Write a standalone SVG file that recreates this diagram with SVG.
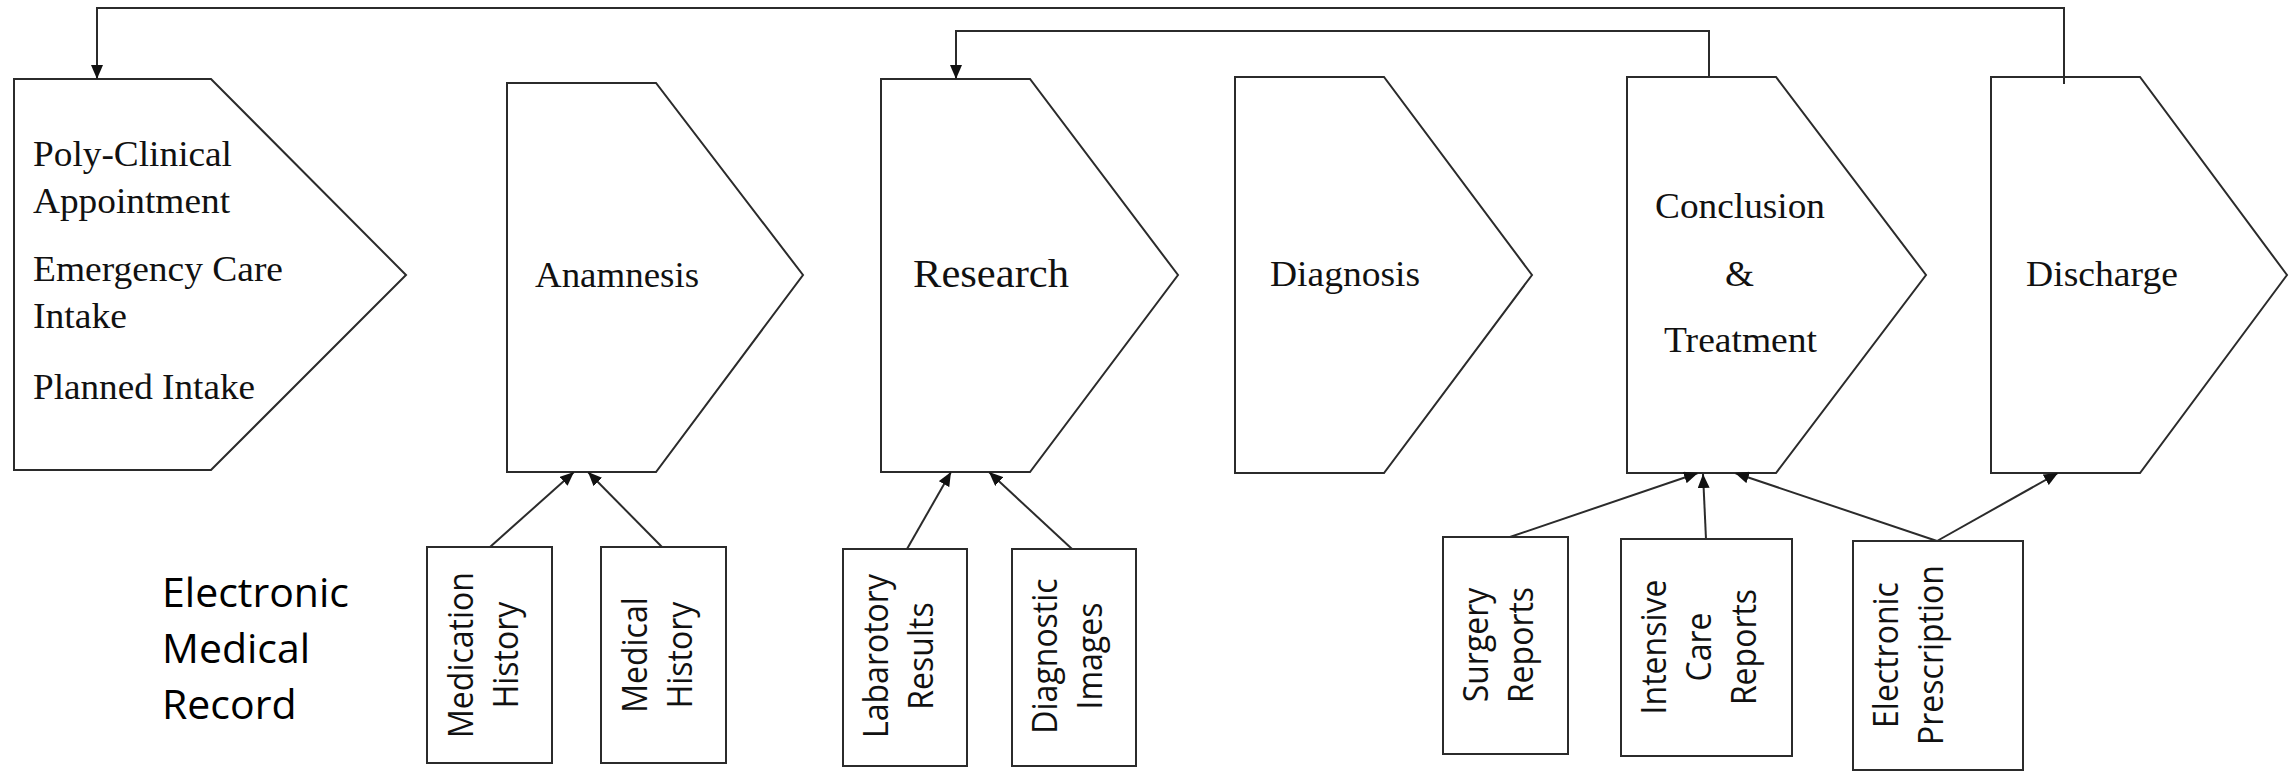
<svg xmlns="http://www.w3.org/2000/svg" width="2292" height="771" viewBox="0 0 2292 771">
  <style>
    .stage { fill: #ffffff; stroke: #2b2b2b; stroke-width: 2; }
    .box { fill: #ffffff; stroke: #2b2b2b; stroke-width: 2; }
    .link { fill: none; stroke: #2b2b2b; stroke-width: 2; }
    .serif { font-family: "Liberation Serif", "Times New Roman", serif; font-size: 36px; fill: #111111; }
    .big { font-size: 41px; }
    .sans { font-family: "Open Sans", "Liberation Sans", sans-serif; font-size: 32px; fill: #111111; text-anchor: middle; }
    .label { font-family: "Open Sans", "Liberation Sans", sans-serif; font-size: 41px; fill: #000000; }
  </style>
  <defs>
    <marker id="head" markerUnits="userSpaceOnUse" markerWidth="16" markerHeight="12" refX="14" refY="6" orient="auto">
      <path d="M0,0 L14,6 L0,12 Z" fill="#111111"/>
    </marker>
  </defs>

  <rect width="2292" height="771" fill="#ffffff"/>

  <!-- process stages (chevrons) -->
  <g id="stage-intake">
    <polygon class="stage" points="14,79 211,79 406,275 211,470 14,470"/>
    <text class="serif" x="33" y="166" textLength="199" lengthAdjust="spacingAndGlyphs">Poly-Clinical</text>
    <text class="serif" x="33" y="213" textLength="197" lengthAdjust="spacingAndGlyphs">Appointment</text>
    <text class="serif" x="33" y="281" textLength="250" lengthAdjust="spacingAndGlyphs">Emergency Care</text>
    <text class="serif" x="33" y="328" textLength="94" lengthAdjust="spacingAndGlyphs">Intake</text>
    <text class="serif" x="33" y="399" textLength="222" lengthAdjust="spacingAndGlyphs">Planned Intake</text>
  </g>
  <g id="stage-anamnesis">
    <polygon class="stage" points="507,83 656,83 803,275 656,472 507,472"/>
    <text class="serif" x="535" y="287" textLength="164" lengthAdjust="spacingAndGlyphs">Anamnesis</text>
  </g>
  <g id="stage-research">
    <polygon class="stage" points="881,79 1030,79 1178,275 1030,472 881,472"/>
    <text class="serif big" x="913" y="287" textLength="156" lengthAdjust="spacingAndGlyphs">Research</text>
  </g>
  <g id="stage-diagnosis">
    <polygon class="stage" points="1235,77 1384,77 1532,275 1384,473 1235,473"/>
    <text class="serif" x="1270" y="286" textLength="150" lengthAdjust="spacingAndGlyphs">Diagnosis</text>
  </g>
  <g id="stage-treatment">
    <polygon class="stage" points="1627,77 1776,77 1926,275 1776,473 1627,473"/>
    <text class="serif" x="1655" y="218" textLength="170" lengthAdjust="spacingAndGlyphs">Conclusion</text>
    <text class="serif" x="1725" y="286" textLength="29" lengthAdjust="spacingAndGlyphs">&amp;</text>
    <text class="serif" x="1664" y="352" textLength="153" lengthAdjust="spacingAndGlyphs">Treatment</text>
  </g>
  <g id="stage-discharge">
    <polygon class="stage" points="1991,77 2140,77 2287,275 2140,473 1991,473"/>
    <text class="serif" x="2026" y="286" textLength="152" lengthAdjust="spacingAndGlyphs">Discharge</text>
  </g>

  <!-- record title -->
  <g id="emr-title">
    <text class="label" x="162" y="607">Electronic</text>
    <text class="label" x="162" y="663">Medical</text>
    <text class="label" x="162" y="719">Record</text>
  </g>

  <!-- record sources (vertical labels, glyphs slightly widened across the line) -->
  <g id="src-medication">
    <rect class="box" x="427" y="547" width="125" height="216"/>
    <text class="sans" transform="translate(473,655) rotate(-90) scale(1,1.1)">Medication</text>
    <text class="sans" transform="translate(518,655) rotate(-90) scale(1,1.1)">History</text>
  </g>
  <g id="src-medical">
    <rect class="box" x="601" y="547" width="125" height="216"/>
    <text class="sans" transform="translate(647,655) rotate(-90) scale(1,1.1)">Medical</text>
    <text class="sans" transform="translate(692,655) rotate(-90) scale(1,1.1)">History</text>
  </g>
  <g id="src-laboratory">
    <rect class="box" x="843" y="549" width="124" height="217"/>
    <text class="sans" transform="translate(888,656) rotate(-90) scale(1,1.1)">Labarotory</text>
    <text class="sans" transform="translate(933,656) rotate(-90) scale(1,1.1)">Results</text>
  </g>
  <g id="src-imaging">
    <rect class="box" x="1012" y="549" width="124" height="217"/>
    <text class="sans" transform="translate(1057,656) rotate(-90) scale(1,1.1)">Diagnostic</text>
    <text class="sans" transform="translate(1102,656) rotate(-90) scale(1,1.1)">Images</text>
  </g>
  <g id="src-surgery">
    <rect class="box" x="1443" y="537" width="125" height="217"/>
    <text class="sans" transform="translate(1488,645) rotate(-90) scale(1,1.1)">Surgery</text>
    <text class="sans" transform="translate(1533,645) rotate(-90) scale(1,1.1)">Reports</text>
  </g>
  <g id="src-intensive">
    <rect class="box" x="1621" y="539" width="171" height="217"/>
    <text class="sans" transform="translate(1666,647) rotate(-90) scale(1,1.1)">Intensive</text>
    <text class="sans" transform="translate(1711,647) rotate(-90) scale(1,1.1)">Care</text>
    <text class="sans" transform="translate(1756,647) rotate(-90) scale(1,1.1)">Reports</text>
  </g>
  <g id="src-prescription">
    <rect class="box" x="1853" y="541" width="170" height="229"/>
    <text class="sans" transform="translate(1898,655) rotate(-90) scale(1,1.1)">Electronic</text>
    <text class="sans" transform="translate(1943,655) rotate(-90) scale(1,1.1)">Prescription</text>
  </g>

  <!-- connectors -->
  <g id="connectors">
    <path class="link" d="M2064,84 V8 H97 V79" marker-end="url(#head)"/>
    <path class="link" d="M1709,77 V31 H956 V79" marker-end="url(#head)"/>
    <line class="link" x1="490" y1="547" x2="574" y2="472" marker-end="url(#head)"/>
    <line class="link" x1="662" y1="547" x2="588" y2="472" marker-end="url(#head)"/>
    <line class="link" x1="907" y1="549" x2="951" y2="472" marker-end="url(#head)"/>
    <line class="link" x1="1072" y1="549" x2="989" y2="472" marker-end="url(#head)"/>
    <line class="link" x1="1510" y1="537" x2="1698" y2="473" marker-end="url(#head)"/>
    <line class="link" x1="1706" y1="539" x2="1703" y2="474" marker-end="url(#head)"/>
    <line class="link" x1="1937" y1="541" x2="1735" y2="473" marker-end="url(#head)"/>
    <line class="link" x1="1937" y1="541" x2="2058" y2="473" marker-end="url(#head)"/>
  </g>
</svg>
